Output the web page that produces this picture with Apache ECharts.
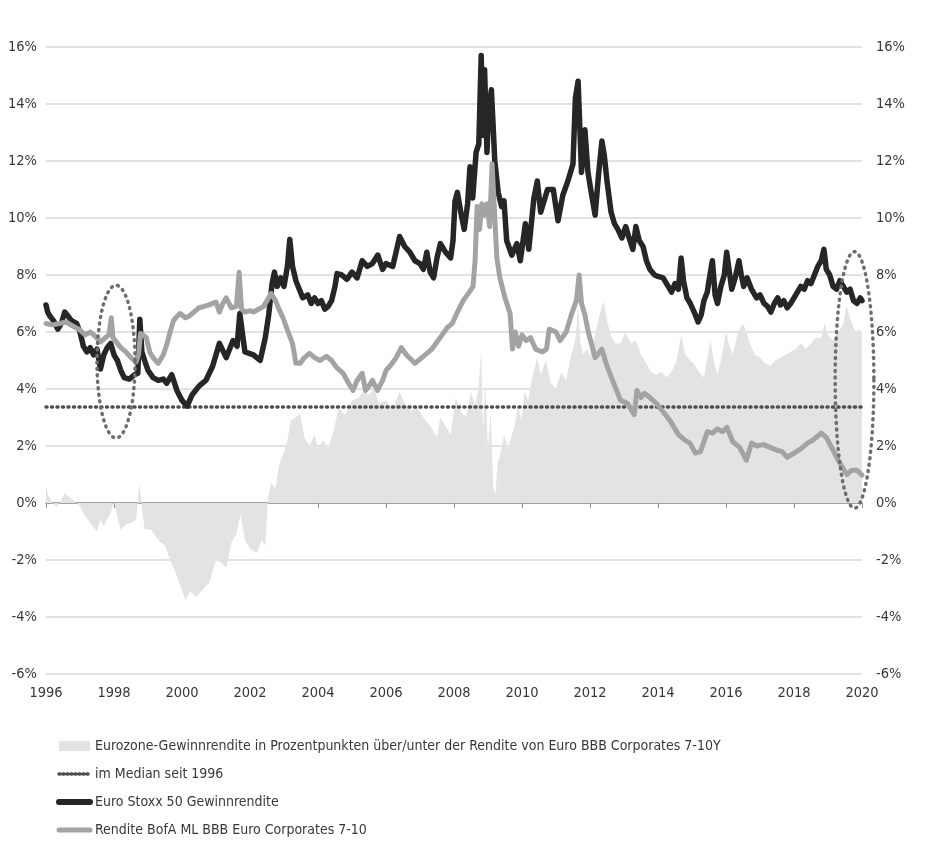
<!DOCTYPE html>
<html>
<head>
<meta charset="utf-8">
<script src="https://cdn.jsdelivr.net/npm/echarts@6/dist/echarts.min.js"></script>
<style>
html,body{margin:0;padding:0;background:#fff;}
#chart{width:946px;height:852px;}
</style>
</head>
<body>
<div id="chart"></div>
<script>
// ---- Data (year, percent) ----
const seriesNames = [
  'Eurozone-Gewinnrendite in Prozentpunkten über/unter der Rendite von Euro BBB Corporates 7-10Y',
  'im Median seit 1996',
  'Euro Stoxx 50 Gewinnrendite',
  'Rendite BofA ML BBB Euro Corporates 7-10'
];
const yTicks = [-6,-4,-2,0,2,4,6,8,10,12,14,16];
const xYears = [1996,1998,2000,2002,2004,2006,2008,2010,2012,2014,2016,2018,2020];

const spread = [[1996.0,0.65],[1996.05,0.3],[1996.15,0.1],[1996.3,-0.15],[1996.45,0.1],[1996.55,0.35],[1996.7,0.2],[1996.85,0.05],[1997.0,-0.1],[1997.1,-0.35],[1997.3,-0.7],[1997.5,-1.0],[1997.6,-0.6],[1997.7,-0.8],[1997.9,-0.35],[1998.0,0.05],[1998.1,-0.5],[1998.2,-0.95],[1998.35,-0.75],[1998.5,-0.7],[1998.65,-0.6],[1998.75,0.7],[1998.82,-0.2],[1998.9,-0.9],[1999.1,-0.95],[1999.3,-1.3],[1999.5,-1.5],[1999.65,-2.0],[1999.8,-2.4],[1999.95,-2.9],[2000.1,-3.4],[2000.25,-3.1],[2000.4,-3.3],[2000.6,-3.05],[2000.8,-2.8],[2001.0,-2.0],[2001.15,-2.1],[2001.3,-2.25],[2001.45,-1.4],[2001.6,-1.1],[2001.72,-0.4],[2001.85,-1.3],[2002.0,-1.6],[2002.2,-1.75],[2002.35,-1.3],[2002.45,-1.5],[2002.52,0.1],[2002.62,0.7],[2002.75,0.5],[2002.85,1.3],[2003.0,1.8],[2003.1,2.2],[2003.2,2.9],[2003.35,3.0],[2003.47,3.15],[2003.6,2.3],[2003.75,2.0],[2003.9,2.4],[2004.0,1.9],[2004.15,2.2],[2004.3,1.9],[2004.45,2.5],[2004.6,3.3],[2004.8,3.1],[2005.0,3.6],[2005.2,3.7],[2005.35,3.95],[2005.5,3.8],[2005.65,4.0],[2005.8,3.5],[2006.0,3.6],[2006.2,3.3],[2006.4,3.9],[2006.55,3.5],[2006.75,3.2],[2006.9,3.4],[2007.1,3.0],[2007.3,2.7],[2007.5,2.3],[2007.6,3.0],[2007.75,2.7],[2007.9,2.4],[2008.05,3.7],[2008.2,3.2],[2008.35,3.0],[2008.5,3.9],[2008.62,3.4],[2008.72,4.0],[2008.8,5.4],[2008.85,2.5],[2008.92,4.2],[2009.0,1.9],[2009.08,3.2],[2009.15,0.6],[2009.22,0.3],[2009.28,1.4],[2009.38,1.8],[2009.48,2.4],[2009.58,1.9],[2009.68,2.3],[2009.78,2.7],[2009.88,3.4],[2009.98,2.9],[2010.08,3.9],[2010.18,3.6],[2010.3,4.4],[2010.45,5.1],[2010.55,4.5],[2010.7,5.0],[2010.85,4.2],[2011.0,4.0],[2011.15,4.6],[2011.3,4.3],[2011.45,5.2],[2011.58,5.8],[2011.65,7.0],[2011.72,5.6],[2011.8,5.2],[2011.9,5.4],[2012.0,5.2],[2012.15,5.9],[2012.3,6.7],[2012.4,7.1],[2012.5,6.4],[2012.6,5.9],[2012.75,5.6],[2012.9,5.6],[2013.05,6.0],[2013.2,5.6],[2013.35,5.7],[2013.5,5.2],[2013.65,4.9],[2013.8,4.6],[2013.95,4.5],[2014.1,4.6],[2014.25,4.4],[2014.4,4.6],[2014.55,5.0],[2014.68,5.9],[2014.8,5.2],[2014.95,5.0],[2015.05,4.9],[2015.2,4.6],[2015.35,4.4],[2015.45,5.1],[2015.55,5.7],[2015.65,4.9],[2015.75,4.5],[2015.85,5.0],[2016.0,6.0],[2016.1,5.5],[2016.2,5.2],[2016.35,6.0],[2016.5,6.3],[2016.6,6.0],[2016.7,5.6],[2016.85,5.2],[2017.0,5.1],[2017.15,4.9],[2017.3,4.8],[2017.45,5.0],[2017.6,5.1],[2017.75,5.2],[2017.9,5.3],[2018.05,5.4],[2018.2,5.6],[2018.35,5.4],[2018.5,5.6],[2018.65,5.8],[2018.8,5.8],[2018.9,6.3],[2019.0,5.9],[2019.15,5.7],[2019.3,6.0],[2019.45,6.3],[2019.55,6.9],[2019.65,6.5],[2019.8,6.0],[2019.9,6.1],[2020.0,6.0]];

const medianValue = 3.37;
const medianLine = [[1996,medianValue],[2020,medianValue]];

const stoxxYield = [[1996.0,6.95],[1996.05,6.7],[1996.12,6.55],[1996.22,6.4],[1996.35,6.1],[1996.45,6.3],[1996.55,6.7],[1996.65,6.55],[1996.75,6.4],[1996.9,6.3],[1997.0,6.0],[1997.1,5.5],[1997.2,5.3],[1997.3,5.45],[1997.4,5.2],[1997.5,5.4],[1997.6,4.7],[1997.7,5.2],[1997.8,5.45],[1997.9,5.6],[1998.0,5.2],[1998.1,5.0],[1998.2,4.65],[1998.3,4.4],[1998.45,4.35],[1998.6,4.5],[1998.7,4.55],[1998.76,6.45],[1998.82,5.3],[1998.9,5.0],[1999.0,4.65],[1999.15,4.4],[1999.3,4.3],[1999.45,4.35],[1999.55,4.2],[1999.7,4.5],[1999.85,3.95],[2000.0,3.6],[2000.15,3.4],[2000.3,3.8],[2000.5,4.1],[2000.7,4.3],[2000.9,4.8],[2001.1,5.6],[2001.3,5.1],[2001.5,5.7],[2001.62,5.5],[2001.7,6.65],[2001.85,5.3],[2002.1,5.2],[2002.3,5.0],[2002.45,5.8],[2002.55,6.6],[2002.65,7.7],[2002.72,8.1],[2002.8,7.6],[2002.9,7.9],[2003.0,7.6],[2003.1,8.3],[2003.17,9.25],[2003.25,8.3],[2003.35,7.8],[2003.45,7.5],[2003.55,7.2],[2003.7,7.3],[2003.8,7.0],[2003.9,7.2],[2004.0,7.0],[2004.1,7.1],[2004.2,6.8],[2004.3,6.9],[2004.4,7.1],[2004.5,7.6],[2004.56,8.05],[2004.7,8.0],[2004.85,7.85],[2005.0,8.1],[2005.15,7.9],[2005.3,8.5],[2005.45,8.3],[2005.6,8.4],[2005.76,8.7],[2005.9,8.2],[2006.0,8.4],[2006.2,8.3],[2006.4,9.35],[2006.55,9.0],[2006.7,8.8],[2006.85,8.5],[2007.0,8.4],[2007.1,8.2],[2007.2,8.8],[2007.3,8.1],[2007.4,7.9],[2007.5,8.6],[2007.6,9.1],[2007.75,8.8],[2007.9,8.6],[2007.97,9.2],[2008.03,10.6],[2008.1,10.9],[2008.2,10.2],[2008.3,9.6],[2008.4,10.5],[2008.47,11.8],[2008.55,10.7],[2008.65,12.3],[2008.73,12.6],[2008.8,15.7],[2008.85,12.9],[2008.9,15.2],[2008.97,12.3],[2009.02,13.8],[2009.1,14.5],[2009.2,12.0],[2009.3,10.9],[2009.4,10.4],[2009.47,10.6],[2009.55,9.2],[2009.7,8.7],[2009.85,9.1],[2009.95,8.5],[2010.1,9.8],[2010.2,8.9],[2010.35,10.7],[2010.45,11.3],[2010.55,10.2],[2010.75,11.0],[2010.92,11.0],[2011.06,9.9],[2011.2,10.8],[2011.35,11.3],[2011.5,11.9],[2011.57,14.2],[2011.65,14.8],[2011.75,11.6],[2011.85,13.1],[2011.94,11.6],[2012.05,10.8],[2012.15,10.1],[2012.25,11.5],[2012.35,12.7],[2012.42,12.2],[2012.5,11.3],[2012.62,10.2],[2012.72,9.8],[2012.82,9.6],[2012.94,9.3],[2013.05,9.7],[2013.15,9.3],[2013.26,8.9],[2013.35,9.7],[2013.45,9.2],[2013.56,9.0],[2013.66,8.5],[2013.76,8.2],[2013.9,8.0],[2014.0,7.95],[2014.15,7.9],[2014.3,7.6],[2014.4,7.4],[2014.5,7.7],[2014.6,7.5],[2014.68,8.6],[2014.75,7.8],[2014.85,7.2],[2014.95,7.0],[2015.1,6.6],[2015.18,6.35],[2015.27,6.6],[2015.35,7.1],[2015.45,7.4],[2015.5,7.8],[2015.6,8.5],[2015.68,7.3],[2015.75,7.0],[2015.85,7.6],[2015.95,8.0],[2016.02,8.8],[2016.1,8.1],[2016.17,7.5],[2016.27,7.9],[2016.38,8.5],[2016.45,8.0],[2016.52,7.6],[2016.62,7.9],[2016.75,7.5],[2016.9,7.2],[2017.0,7.3],[2017.12,7.0],[2017.22,6.9],[2017.32,6.7],[2017.42,7.0],[2017.52,7.2],[2017.6,6.95],[2017.7,7.1],[2017.8,6.85],[2017.9,7.0],[2018.0,7.2],[2018.1,7.4],[2018.2,7.6],[2018.3,7.5],[2018.4,7.8],[2018.5,7.7],[2018.6,8.0],[2018.7,8.3],[2018.8,8.5],[2018.88,8.9],[2018.95,8.2],[2019.05,8.0],[2019.15,7.6],[2019.25,7.5],[2019.35,7.8],[2019.45,7.6],[2019.55,7.4],[2019.65,7.5],[2019.75,7.1],[2019.85,7.0],[2019.95,7.2],[2020.0,7.1]];

const bbbYield = [[1996.0,6.3],[1996.2,6.25],[1996.4,6.3],[1996.6,6.35],[1996.8,6.2],[1997.0,6.07],[1997.15,5.9],[1997.3,6.0],[1997.45,5.85],[1997.6,5.65],[1997.75,5.8],[1997.85,5.9],[1997.92,6.5],[1997.97,5.8],[1998.1,5.6],[1998.2,5.45],[1998.35,5.3],[1998.5,5.1],[1998.65,4.95],[1998.72,5.2],[1998.78,5.95],[1998.85,5.9],[1998.95,5.8],[1999.05,5.3],[1999.15,5.1],[1999.3,4.9],[1999.45,5.2],[1999.55,5.55],[1999.65,6.0],[1999.75,6.4],[1999.85,6.55],[1999.95,6.65],[2000.1,6.5],[2000.2,6.55],[2000.35,6.7],[2000.5,6.85],[2000.65,6.9],[2000.8,6.95],[2001.0,7.05],[2001.1,6.7],[2001.2,7.0],[2001.3,7.2],[2001.45,6.85],[2001.6,6.9],[2001.68,8.1],[2001.75,6.8],[2001.85,6.7],[2002.0,6.75],[2002.1,6.7],[2002.25,6.8],[2002.4,6.9],[2002.5,7.1],[2002.62,7.35],[2002.75,7.1],[2002.85,6.8],[2002.97,6.5],[2003.1,6.07],[2003.25,5.6],[2003.35,4.9],[2003.47,4.9],[2003.6,5.1],[2003.75,5.25],[2003.9,5.1],[2004.06,5.0],[2004.25,5.15],[2004.4,5.0],[2004.55,4.75],[2004.74,4.55],[2004.9,4.2],[2005.03,3.95],[2005.15,4.3],[2005.3,4.55],[2005.4,3.95],[2005.5,4.1],[2005.6,4.3],[2005.75,3.95],[2005.9,4.3],[2006.0,4.65],[2006.15,4.85],[2006.3,5.1],[2006.45,5.45],[2006.6,5.2],[2006.85,4.9],[2007.0,5.05],[2007.15,5.2],[2007.35,5.4],[2007.5,5.65],[2007.65,5.9],[2007.8,6.15],[2007.95,6.3],[2008.1,6.7],[2008.27,7.1],[2008.45,7.4],[2008.56,7.6],[2008.62,8.5],[2008.68,10.4],[2008.75,9.6],[2008.82,10.5],[2008.9,10.1],[2008.97,10.5],[2009.05,9.7],[2009.12,11.9],[2009.18,10.5],[2009.26,8.6],[2009.35,7.9],[2009.5,7.2],[2009.65,6.65],[2009.72,5.4],[2009.8,6.0],[2009.9,5.5],[2010.0,5.9],[2010.12,5.7],[2010.25,5.8],[2010.4,5.4],[2010.6,5.3],[2010.72,5.4],[2010.8,6.1],[2011.0,6.0],[2011.12,5.7],[2011.3,6.0],[2011.45,6.6],[2011.6,7.1],[2011.68,8.0],[2011.75,7.0],[2011.85,6.6],[2011.95,6.0],[2012.15,5.1],[2012.35,5.4],[2012.5,4.8],[2012.7,4.2],[2012.9,3.6],[2013.1,3.5],[2013.3,3.1],[2013.38,3.95],[2013.5,3.7],[2013.6,3.85],[2013.76,3.7],[2013.95,3.5],[2014.15,3.2],[2014.35,2.9],[2014.6,2.4],[2014.8,2.2],[2014.94,2.1],[2015.1,1.75],[2015.25,1.8],[2015.45,2.5],[2015.6,2.45],[2015.75,2.6],[2015.9,2.5],[2016.03,2.65],[2016.2,2.15],[2016.4,1.95],[2016.6,1.5],[2016.75,2.1],[2016.9,2.0],[2017.1,2.05],[2017.3,1.95],[2017.5,1.85],[2017.65,1.8],[2017.8,1.6],[2018.0,1.75],[2018.2,1.9],[2018.4,2.1],[2018.55,2.2],[2018.7,2.35],[2018.8,2.45],[2018.95,2.3],[2019.15,1.85],[2019.3,1.5],[2019.45,1.2],[2019.56,1.0],[2019.7,1.15],[2019.85,1.15],[2020.0,0.98]];

// annotation ellipses: [centerYear, centerValue, radiusYears, radiusValue]
const highlightEllipses = [[1998.06,4.96,0.56,2.68],[2019.78,4.32,0.57,4.5]];

const FONT = '"Liberation Sans Narrow","Arial Narrow","DejaVu Sans Condensed",sans-serif';
const TXT = '#383838';

const chart = echarts.init(document.getElementById('chart'), null, {renderer:'canvas'});
const option = {
  animation: false,
  backgroundColor: '#fff',
  textStyle: {fontFamily: FONT},
  grid: {left: 46, right: 84, top: 47, bottom: 178, containLabel: false},
  legend: {
    orient: 'vertical', left: 51, top: 732, itemGap: 10,
    itemWidth: 31, itemHeight: 10,
    itemStyle: {opacity: 0},
    textStyle: {fontFamily: FONT, fontSize: 14, color: TXT, lineHeight: 18},
    data: [
      {name: seriesNames[0], icon: 'rect', itemStyle: {color: '#e3e3e3', opacity: 1}},
      {name: seriesNames[1], lineStyle: {width: 3.5, color: '#4d4d4d', type: [1, 3], cap: 'round'}},
      {name: seriesNames[2], lineStyle: {width: 6, color: '#262626', cap: 'round'}},
      {name: seriesNames[3], lineStyle: {width: 5, color: '#a3a3a3', cap: 'round'}}
    ]
  },
  xAxis: [
    {type: 'value', min: 1996, max: 2020, interval: 2, position: 'bottom',
     axisLine: {show: false, onZero: false}, axisTick: {show: false}, splitLine: {show: false},
     axisLabel: {fontFamily: FONT, fontSize: 14.5, color: TXT, margin: 12, formatter: v => String(v)}},
    {type: 'value', min: 1996, max: 2020, interval: 2, position: 'bottom',
     axisLine: {show: true, onZero: true, lineStyle: {color: '#8a8a8a', width: 1.5}},
     axisTick: {show: true, length: 5, lineStyle: {color: '#8a8a8a', width: 1}},
     axisLabel: {show: false}, splitLine: {show: false}}
  ],
  yAxis: [
    {type: 'value', min: -6, max: 16, interval: 2, position: 'left',
     axisLine: {show: false}, axisTick: {show: false},
     splitLine: {show: true, lineStyle: {color: '#d9d9d9', width: 1.5}},
     axisLabel: {fontFamily: FONT, fontSize: 14.5, color: TXT, margin: 9, formatter: '{value}%'}},
    {type: 'value', min: -6, max: 16, interval: 2, position: 'right',
     axisLine: {show: false}, axisTick: {show: false}, splitLine: {show: false},
     axisLabel: {fontFamily: FONT, fontSize: 14.5, color: TXT, margin: 14, formatter: '{value}%'}}
  ],
  series: [
    {name: seriesNames[0], type: 'line', data: spread, showSymbol: false, symbol: 'none',
     lineStyle: {width: 0, color: '#e3e3e3'}, itemStyle: {color: '#e3e3e3'},
     areaStyle: {color: '#e3e3e3', opacity: 1, origin: 0}, z: 2},
    {name: seriesNames[1], type: 'line', data: medianLine, showSymbol: false, symbol: 'none',
     lineStyle: {width: 3.5, color: '#4d4d4d', type: [1, 4.5], cap: 'round'}, itemStyle: {color: '#4d4d4d'}, z: 3},
    {name: seriesNames[2], type: 'line', data: stoxxYield, showSymbol: false, symbol: 'none',
     lineStyle: {width: 5.5, color: '#262626', join: 'round', cap: 'round'}, itemStyle: {color: '#262626'}, z: 4},
    {name: seriesNames[3], type: 'line', data: bbbYield, showSymbol: false, symbol: 'none',
     lineStyle: {width: 5, color: '#a3a3a3', join: 'round', cap: 'round'}, itemStyle: {color: '#a3a3a3'}, z: 5},
    {name: 'ellipses', type: 'custom', data: highlightEllipses, clip: false, z: 6,
     renderItem: function (params, api) {
       const c = api.coord([api.value(0), api.value(1)]);
       const s = api.size([api.value(2), api.value(3)]);
       const pts = [];
       for (let i = 0; i < 120; i++) {
         const t = i / 120 * Math.PI * 2;
         pts.push([c[0] + s[0] * Math.cos(t), c[1] + s[1] * Math.sin(t)]);
       }
       return {type: 'polygon', shape: {points: pts},
         style: {fill: 'none', stroke: '#6e6e6e', lineWidth: 3.5, lineDash: [1, 5.5], lineCap: 'round'}};
     }}
  ]
};
chart.setOption(option);
</script>
</body>
</html>
